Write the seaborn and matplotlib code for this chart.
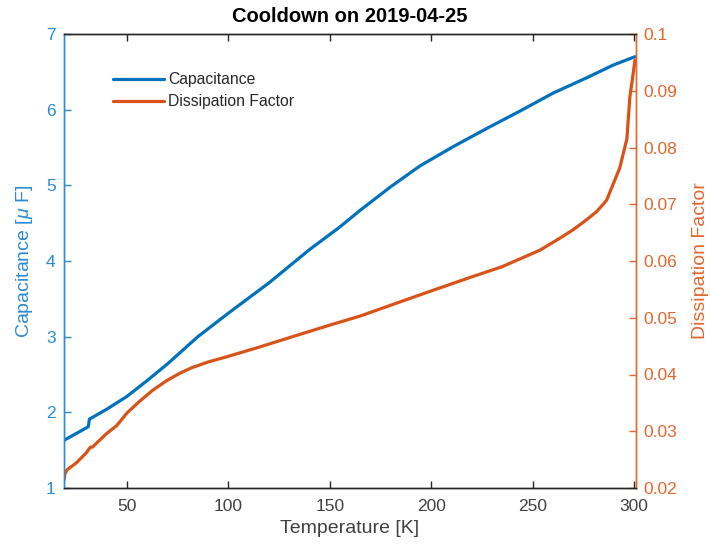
import matplotlib
matplotlib.use("Agg")
import matplotlib.pyplot as plt
import seaborn as sns
import pandas as pd

# ---- data ----
cap_T = [19, 25, 31, 31.5, 40, 50, 60, 70, 85, 100, 120, 140, 155, 165, 180,
         194.4, 210.8, 227.3, 243.7, 260.2, 276.6, 289.8, 300.5]
cap_vals = [1.63, 1.72, 1.81, 1.91, 2.04, 2.21, 2.42, 2.64, 3.00, 3.31, 3.71,
            4.15, 4.45, 4.67, 4.98, 5.255, 5.51, 5.75, 5.98, 6.22, 6.42, 6.59,
            6.70]

df_T = [19, 19.5, 20.5, 25, 30, 32, 33, 40, 45, 50, 56, 63, 70, 76, 82, 90, 99,
        115, 132, 150, 165, 180, 199, 220, 235, 253.6, 262, 270, 276, 281.6,
        286.5, 290.6, 293, 294.5, 296.5, 298, 299.3, 300.5]
df_vals = [0.0214, 0.0225, 0.0232, 0.0244, 0.0262, 0.0272, 0.0272, 0.0296,
           0.0310, 0.0332, 0.0352, 0.0373, 0.0390, 0.0402, 0.0412, 0.0422,
           0.0431, 0.0448, 0.0467, 0.0487, 0.0503, 0.0522, 0.0546, 0.0572,
           0.0590, 0.0619, 0.0637, 0.0655, 0.0671, 0.0687, 0.0707, 0.0743,
           0.0764, 0.0786, 0.0815, 0.0890, 0.0922, 0.0954]

x_ticks = [50, 100, 150, 200, 250, 300]
left_ticks = [1, 2, 3, 4, 5, 6, 7]
right_ticks = [0.02, 0.03, 0.04, 0.05, 0.06, 0.07, 0.08, 0.09, 0.1]
right_labels = ["0.02", "0.03", "0.04", "0.05", "0.06", "0.07", "0.08", "0.09", "0.1"]

title = "Cooldown on 2019-04-25"
xlabel = "Temperature [K]"
ylabel_left = r"Capacitance [$\mu$ F]"
ylabel_right = "Dissipation Factor"
series_names = ["Capacitance", "Dissipation Factor"]

# ---- style ----
sns.set_style("white")
plt.rcParams["font.family"] = ["Liberation Sans", "DejaVu Sans"]
plt.rcParams["mathtext.fontset"] = "custom"
plt.rcParams["mathtext.it"] = "Liberation Sans:italic"
plt.rcParams["mathtext.rm"] = "Liberation Sans"

BLUE_LINE = "#0072BD"
ORANGE_LINE = "#D95319"
BLUE_AX = "#2A8AD2"
ORANGE_AX = "#E2672E"
GRAY = "#262626"

fig = plt.figure(figsize=(7.10, 5.45), dpi=100)
ax = fig.add_axes([64 / 710, 1 - 488 / 545, (636 - 64) / 710, (488 - 34) / 545])
ax2 = ax.twinx()

cap_df = pd.DataFrame({"T": cap_T, "v": cap_vals})
dis_df = pd.DataFrame({"T": df_T, "v": df_vals})

sns.lineplot(data=cap_df, x="T", y="v", ax=ax, color=BLUE_LINE, lw=2.3,
             sort=False, estimator=None, label=series_names[0], legend=False)
sns.lineplot(data=dis_df, x="T", y="v", ax=ax2, color=ORANGE_LINE, lw=2.3,
             sort=False, estimator=None, label=series_names[1], legend=False)

ax.set_xlim(19, 301)
ax.set_ylim(1, 7)
ax2.set_ylim(0.02, 0.1)
ax.set_xticks(x_ticks)
ax.set_yticks(left_ticks)
ax2.set_yticks(right_ticks)
ax2.set_yticklabels(right_labels)

for a in (ax, ax2):
    a.set_facecolor("none")
    for s in ("top", "bottom"):
        a.spines[s].set_color(GRAY)
        a.spines[s].set_linewidth(1.0)
    a.spines["left"].set_color(BLUE_AX)
    a.spines["right"].set_color(ORANGE_AX)
    a.spines["left"].set_linewidth(1.0)
    a.spines["right"].set_linewidth(1.0)
    a.grid(False)

ax.tick_params(axis="x", direction="in", length=5, width=1, color=GRAY,
               labelcolor="#404040", labelsize=12.5, pad=8, top=True, bottom=True)
ax.tick_params(axis="y", direction="in", length=5, width=1, color=BLUE_AX,
               labelcolor=BLUE_AX, labelsize=12.5, pad=6, left=True, right=False)
ax2.tick_params(axis="y", direction="in", length=5, width=1, color=ORANGE_AX,
                labelcolor=ORANGE_AX, labelsize=12.5, pad=5, right=True, left=False)

ax.set_xlabel(xlabel, fontsize=14, color="#404040", labelpad=4)
ax.set_ylabel(ylabel_left, fontsize=14, color=BLUE_AX, labelpad=8)
ax2.set_ylabel(ylabel_right, fontsize=14, color=ORANGE_AX, labelpad=11)
ax.set_title(title, fontsize=14.5, fontweight="bold", color="black", pad=9)

h1, l1 = ax.get_legend_handles_labels()
h2, l2 = ax2.get_legend_handles_labels()
leg = ax2.legend(h1 + h2, l1 + l2, loc="upper left",
                 bbox_to_anchor=(113 / 710, 1 - 72 / 545),
                 bbox_transform=fig.transFigure, frameon=False, fontsize=11.3,
                 handlelength=3.25, handletextpad=0.25, labelspacing=0.45,
                 borderpad=0, borderaxespad=0)
for t in leg.get_texts():
    t.set_color(GRAY)

fig.savefig("out.png", dpi=100, facecolor="white")
